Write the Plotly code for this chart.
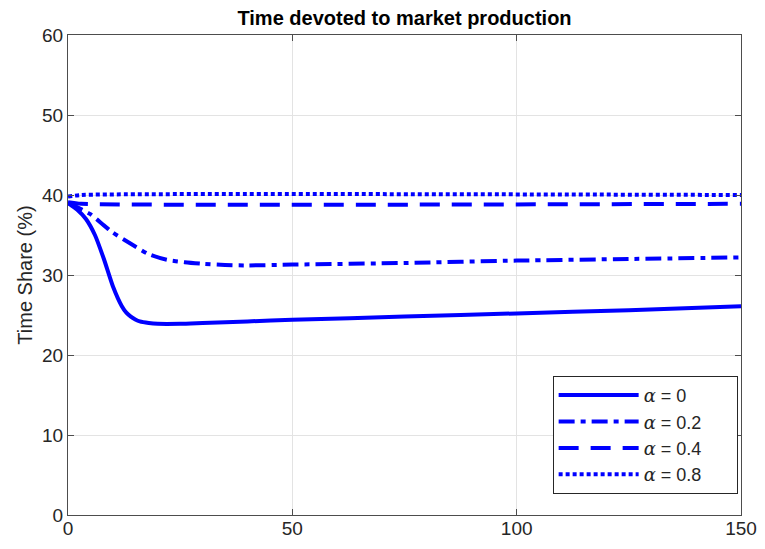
import plotly.graph_objects as go

t_a0 = [0, 2, 4, 6, 8, 10, 12, 13, 14, 15, 16, 18, 20, 25, 30, 40, 50, 75, 100, 125, 150]
y_a0 = [39.0, 38.2, 37.0, 35.0, 32.0, 28.6, 26.1, 25.3, 24.8, 24.45, 24.2, 24.0, 23.9, 23.9, 24.0, 24.2, 24.4, 24.8, 25.2, 25.6, 26.1]

t_a2 = [0, 2, 5, 8, 10, 14, 18, 22, 26, 30, 35, 40, 50, 75, 100, 125, 150]
y_a2 = [39.0, 38.5, 37.6, 36.2, 35.3, 33.9, 32.6, 31.9, 31.6, 31.4, 31.25, 31.2, 31.3, 31.5, 31.8, 32.0, 32.2]

t_a4 = [0, 3, 150]
y_a4 = [39.1, 38.9, 38.9]

t_a8 = [0, 3, 150]
y_a8 = [39.8, 40.0, 40.0]

alpha = "<span style=\"font-family:'DejaVu Serif'\"><i>α</i></span>"
pad = "\u00a0" * 6
labels = [alpha + " = 0" + pad, alpha + " = 0.2" + pad, alpha + " = 0.4" + pad, alpha + " = 0.8" + pad]
dashes = ["solid", "16px,6px,5px,6px", "20px,12px", "4px,3px"]

FONT = "Liberation Sans, Arial, Helvetica, sans-serif"

fig = go.Figure()
for t, y, lab, d in zip([t_a0, t_a2, t_a4, t_a8], [y_a0, y_a2, y_a4, y_a8], labels, dashes):
    fig.add_trace(go.Scatter(x=t, y=y, mode="lines", name=lab,
                             line=dict(color="#0000FF", width=4, dash=d, shape="spline", smoothing=0.6)))

axis_common = dict(showline=True, linecolor="#4D4D4D", linewidth=1, mirror="ticks",
                   ticks="inside", ticklen=6, tickcolor="#4D4D4D", automargin=False,
                   showgrid=True, gridcolor="#E3E3E3", gridwidth=1, zeroline=False,
                   tickfont=dict(family=FONT, size=19, color="#262626"))

# page body has an 8px margin: the figure is sized to fit inside the window without scrollbars,
# so the plot area lands at 68..741 x 35..515 of the page
H = 533
fig.update_layout(
    width=749, height=H,
    margin=dict(l=60, r=16, t=27, b=26, autoexpand=False),
    paper_bgcolor="white", plot_bgcolor="white",
    title=dict(text="<b>Time devoted to market production</b>", x=0.5, xref="paper", xanchor="center",
               y=1 - 10 / H, yref="container", yanchor="middle",
               font=dict(family=FONT, size=20, color="black")),
    xaxis=dict(range=[0, 150], tickvals=[0, 50, 100, 150], ticklabelstandoff=-4, **axis_common),
    yaxis=dict(range=[0, 60], tickvals=[0, 10, 20, 30, 40, 50, 60],
               title=dict(text="Time Share (%)", standoff=4,
                          font=dict(family=FONT, size=20, color="#262626")),
               **axis_common),
    legend=dict(x=0.995, y=0.044, xanchor="right", yanchor="bottom",
                bgcolor="white", bordercolor="#262626", borderwidth=1,
                font=dict(family=FONT, size=18, color="#262626"),
                itemwidth=80, tracegroupgap=0),
    showlegend=True,
)

fig.write_html("out.html")
